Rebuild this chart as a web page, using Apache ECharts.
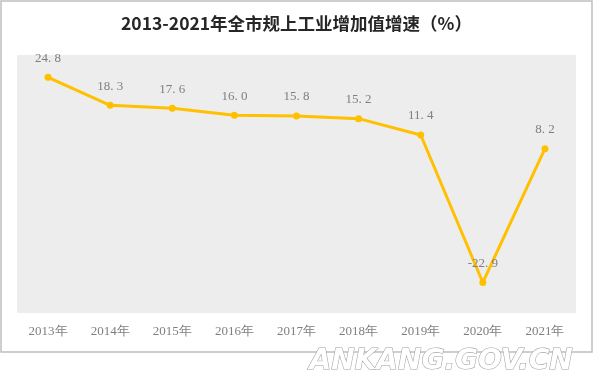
<!DOCTYPE html>
<html><head><meta charset="utf-8">
<script src="https://cdn.jsdelivr.net/npm/echarts@6/dist/echarts.min.js"></script>
<style>html,body{margin:0;padding:0;background:#fff}#c{width:593px;height:391px}</style>
</head><body><div id="c"></div>
<script>
var categories = ['2013年','2014年','2015年','2016年','2017年','2018年','2019年','2020年','2021年'];
var growth = [24.8, 18.3, 17.6, 16.0, 15.8, 15.2, 11.4, -22.9, 8.2];
var chart = echarts.init(document.getElementById('c'), null, {renderer:'canvas'});
chart.setOption({
  animation:false,
  backgroundColor:'#fff',
  title:{text:'2013-2021年全市规上工业增加值增速（%）',left:'center',top:10,
    textStyle:{fontFamily:'Noto Sans CJK SC',fontWeight:'bold',fontSize:17.5,color:'#262626'}},
  grid:{left:17,right:17,top:55,bottom:78,show:true,backgroundColor:'#ededed',borderWidth:0},
  xAxis:{type:'category',data:categories,boundaryGap:true,
    axisLine:{show:false},axisTick:{show:false},
    axisLabel:{margin:12,color:'#7f7f7f',fontSize:13,fontFamily:'Liberation Serif, DejaVu Serif, serif'}},
  yAxis:{type:'value',min:-30,max:30,show:false,splitLine:{show:false}},
  series:[{type:'line',data:growth,color:'#FFC000',
    lineStyle:{width:3,color:'#FFC000'},symbol:'circle',symbolSize:7,
    itemStyle:{color:'#FFC000'},
    label:{show:true,position:'top',distance:9,color:'#7f7f7f',fontSize:13,
      fontFamily:'Liberation Serif, DejaVu Serif, serif',
      formatter:function(p){return p.value.toFixed(1).replace('.', '. ');}}}],
  graphic:[
    {type:'rect',shape:{x:1,y:1,width:591,height:351},style:{fill:'none',stroke:'#bfbfbf',lineWidth:1.5},z:100},
    {type:'text',left:309,top:347,z:100,style:{text:'ANKANG.GOV.CN',fill:'#ffffff',stroke:'#a0a0a0',lineWidth:1.1,
      font:'italic bold 28px "DejaVu Sans", sans-serif',shadowColor:'rgba(0,0,0,0.3)',shadowOffsetX:1,shadowOffsetY:1,shadowBlur:1}}
  ]
});
</script></body></html>
